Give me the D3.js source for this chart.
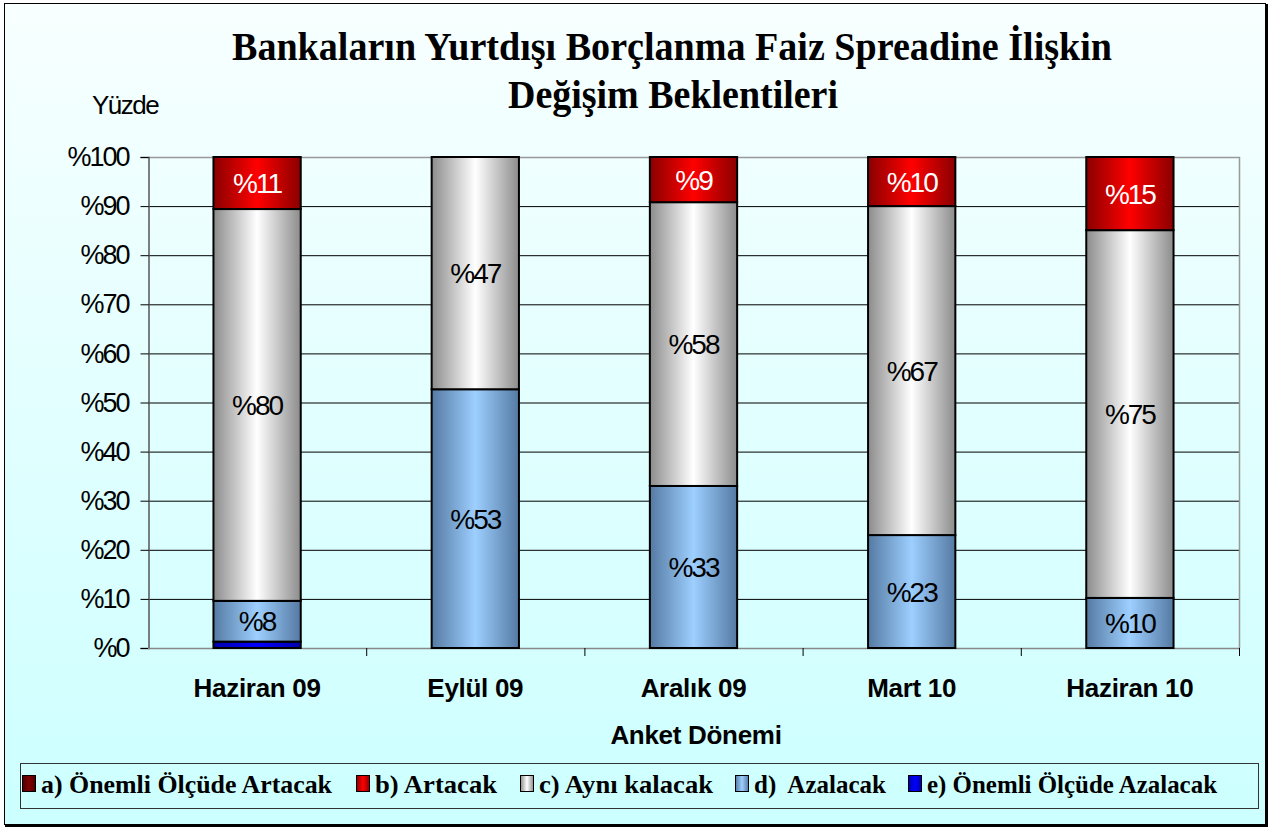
<!DOCTYPE html>
<html><head><meta charset="utf-8">
<script src="https://cdn.jsdelivr.net/npm/d3@7"></script>
<style>html,body{margin:0;padding:0;background:#fff;}svg{display:block;}text{white-space:pre;}</style>
</head><body>
<svg id="chart" width="1270" height="828"></svg>
<script>
const categories = ["Haziran 09", "Eylül 09", "Aralık 09", "Mart 10", "Haziran 10"];
const seriesNames = ["a) Önemli Ölçüde Artacak", "b) Artacak", "c) Aynı kalacak", "d)  Azalacak", "e) Önemli Ölçüde Azalacak"];
const seriesA = [0, 0, 0, 0, 0];
const seriesB = [10.6, 0, 9.2, 10, 14.9];
const seriesC = [79.8, 47.3, 57.8, 67, 74.9];
const seriesD = [8.3, 52.7, 33, 23, 10.2];
const seriesE = [1.3, 0, 0, 0, 0];
const yTicks = [0, 10, 20, 30, 40, 50, 60, 70, 80, 90, 100];
const titleLines = ["Bankaların Yurtdışı Borçlanma Faiz Spreadine İlişkin", "Değişim Beklentileri"];
const yTitle = "Yüzde";
const xTitle = "Anket Dönemi";

const svg = d3.select("#chart");
const defs = svg.append("defs");
const bg = defs.append("linearGradient").attr("id","bg").attr("x1",0).attr("y1",0).attr("x2",0).attr("y2",1);
bg.append("stop").attr("offset","0").attr("stop-color","#f8ffff");
bg.append("stop").attr("offset","1").attr("stop-color","#ccffff");

const colors = [
  {edge:"#4a0000", mid:"#800000"},
  {edge:"#8a0000", mid:"#ff0000"},
  {edge:"#8c8c8c", mid:"#ffffff"},
  {edge:"#557aa3", mid:"#9dcfff"},
  {edge:"#0000aa", mid:"#0000ff"}
];
colors.forEach((c,i)=>{
  const g = defs.append("linearGradient").attr("id","g"+i).attr("x1",0).attr("y1",0).attr("x2",1).attr("y2",0);
  g.append("stop").attr("offset","0").attr("stop-color",c.edge);
  g.append("stop").attr("offset","0.5").attr("stop-color",c.mid);
  g.append("stop").attr("offset","1").attr("stop-color",c.edge);
});

// background + frame
svg.append("rect").attr("x",4.5).attr("y",3.5).attr("width",1261).attr("height",821)
  .attr("fill","url(#bg)").attr("stroke","#000").attr("stroke-width",1);
svg.append("line").attr("x1",5).attr("x2",1267).attr("y1",826).attr("y2",826).attr("stroke","#000").attr("stroke-width",2);
svg.append("line").attr("x1",1267).attr("x2",1267).attr("y1",4).attr("y2",827).attr("stroke","#000").attr("stroke-width",2);

const m = {left:148, right:1239, top:157, bottom:648};
const x = d3.scaleBand().domain(categories).range([m.left, m.right]).paddingInner(0.6).paddingOuter(0.3);
const y = d3.scaleLinear().domain([0,100]).range([m.bottom, m.top]);

// title
const title = svg.append("text").attr("font-family","'Liberation Serif','Times New Roman',serif")
  .attr("font-weight","bold").attr("font-size",41).attr("text-anchor","middle").attr("fill","#000");
title.append("tspan").attr("x",672).attr("y",60).attr("textLength",880).attr("lengthAdjust","spacingAndGlyphs").text(titleLines[0]);
title.append("tspan").attr("x",673).attr("y",108).attr("textLength",330).attr("lengthAdjust","spacingAndGlyphs").text(titleLines[1]);

svg.append("text").attr("x",92).attr("y",114).attr("font-family","'Liberation Sans',Arial,sans-serif")
  .attr("font-size",26).attr("letter-spacing",-1.5).text(yTitle);

// gridlines
svg.append("g").selectAll("line").data(yTicks.filter(d=>d>0 && d<100)).join("line")
  .attr("x1",m.left).attr("x2",m.right).attr("y1",d=>y(d)+0.5).attr("y2",d=>y(d)+0.5)
  .attr("stroke","#000").attr("stroke-width",1);
// plot border top/right
svg.append("path").attr("d",`M${m.left},${m.top+0.5}H${m.right+0.5}V${m.bottom}`)
  .attr("fill","none").attr("stroke","#999").attr("stroke-width",1.5);

// y axis
const yAxis = svg.append("g").attr("transform",`translate(${m.left+0.5},0)`)
  .call(d3.axisLeft(y).tickValues(yTicks).tickSize(8).tickPadding(12).tickFormat(d=>"%"+d));
yAxis.select(".domain").attr("stroke","#555").attr("stroke-width",1.5);
yAxis.selectAll(".tick line").attr("stroke","#000");
yAxis.selectAll(".tick text").attr("font-family","'Liberation Sans',Arial,sans-serif").attr("font-size",27)
  .attr("letter-spacing",-2).attr("fill","#000");

// x axis
const boundaries = d3.range(categories.length+1).map(i=>m.left + i*(m.right-m.left)/categories.length);
svg.append("line").attr("x1",m.left).attr("x2",m.right+0.5).attr("y1",m.bottom+0.5).attr("y2",m.bottom+0.5)
  .attr("stroke","#888").attr("stroke-width",1.5);
svg.append("g").selectAll("line").data(boundaries.slice(1)).join("line")
  .attr("x1",d=>d+0.5).attr("x2",d=>d+0.5).attr("y1",m.bottom).attr("y2",m.bottom+8).attr("stroke","#000");
svg.append("g").selectAll("text").data(categories).join("text")
  .attr("x",d=>x(d)+x.bandwidth()/2).attr("y",697).attr("text-anchor","middle")
  .attr("font-family","'Liberation Sans',Arial,sans-serif").attr("font-weight","bold").attr("font-size",26)
  .attr("letter-spacing",-0.3)
  .text(d=>d);
svg.append("text").attr("x",696).attr("y",744).attr("text-anchor","middle")
  .attr("font-family","'Liberation Sans',Arial,sans-serif").attr("font-weight","bold").attr("font-size",26)
  .attr("letter-spacing",-0.3)
  .text(xTitle);

// stack
const rows = categories.map((c,i)=>({cat:c, a:seriesA[i], b:seriesB[i], c:seriesC[i], d:seriesD[i], e:seriesE[i]}));
const keysBottomUp = ["e","d","c","b","a"];
const colorIdx = {a:0,b:1,c:2,d:3,e:4};
const stack = d3.stack().keys(keysBottomUp)(rows);
const bars = svg.append("g");
stack.forEach(layer=>{
  const k = layer.key;
  bars.append("g").selectAll("rect").data(layer.filter(d=>d[1]-d[0]>0)).join("rect")
    .attr("x",d=>x(d.data.cat)).attr("width",x.bandwidth())
    .attr("y",d=>y(d[1])).attr("height",d=>y(d[0])-y(d[1]))
    .attr("fill",`url(#g${colorIdx[k]})`).attr("stroke","#000").attr("stroke-width",2);
});
// labels
const labelKeys = ["b","c","d"];
stack.filter(l=>labelKeys.includes(l.key)).forEach(layer=>{
  bars.append("g").selectAll("text").data(layer.filter(d=>d[1]-d[0]>0)).join("text")
    .attr("x",d=>x(d.data.cat)+x.bandwidth()/2).attr("y",d=>y((d[0]+d[1])/2)+10)
    .attr("text-anchor","middle").attr("font-family","'Liberation Sans',Arial,sans-serif")
    .attr("font-size",28).attr("letter-spacing",-2)
    .attr("fill",layer.key==="b"?"#fff":"#000")
    .text(d=>"%"+Math.round(d[1]-d[0]));
});

// legend
svg.append("rect").attr("x",20.5).attr("y",763.5).attr("width",1238).attr("height",45)
  .attr("fill","none").attr("stroke","#333").attr("stroke-width",1);
const legX = [22, 356, 520, 735, 908];
const legTextW = [291, 122, 174, 132, 290];
const leg = svg.append("g").selectAll("g").data(seriesNames).join("g")
  .attr("transform",(d,i)=>`translate(${legX[i]},775)`);
leg.append("rect").attr("x",0.5).attr("y",0.5).attr("width",13).attr("height",16)
  .attr("fill",(d,i)=>`url(#g${i})`).attr("stroke","#000").attr("stroke-width",1);
leg.append("text").attr("x",19).attr("y",18).attr("font-family","'Liberation Serif','Times New Roman',serif")
  .attr("font-weight","bold").attr("font-size",25)
  .attr("textLength",(d,i)=>legTextW[i]).attr("lengthAdjust","spacingAndGlyphs")
  .text(d=>d);
</script>
</body></html>
